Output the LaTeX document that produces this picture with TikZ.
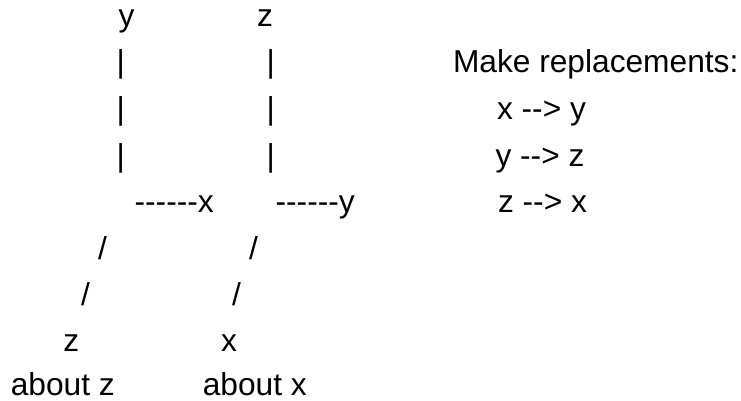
\documentclass[tikz,border=0pt]{standalone}
\usepackage{fontspec}
\setmainfont{Liberation Sans}[Ligatures=TeXOff]
\begin{document}
\begin{tikzpicture}[x=1pt,y=-1pt,
  txt/.style={inner sep=0pt,outer sep=0pt,anchor=base west,font=\fontsize{31.7}{38}\selectfont}]
\useasboundingbox (0,0) rectangle (741,401);
% left tree
\node[txt] (y1) at (118.5,27) {y};
\node[txt] (z1) at (257,27) {z};
\node[txt] (b1a) at (116.5,73) {|};
\node[txt] (b1b) at (266.6,73) {|};
\node[txt] (b2a) at (116.5,120) {|};
\node[txt] (b2b) at (266.6,120) {|};
\node[txt] (b3a) at (116.5,166) {|};
\node[txt] (b3b) at (266.6,166) {|};
\node[txt] (dx) at (134.6,212.5) {------x};
\node[txt] (dy) at (275.6,212.5) {------y};
\node[txt] (s1a) at (98,259) {/};
\node[txt] (s1b) at (249,259) {/};
\node[txt] (s2a) at (81,305) {/};
\node[txt] (s2b) at (232,305) {/};
\node[txt] (z8) at (63.4,351) {z};
\node[txt] (x8) at (221,351) {x};
\node[txt] (az) at (10.8,395.5) {about z};
\node[txt] (ax) at (202.8,395.5) {about x};
% replacements
\node[txt] (mk) at (453,73) {Make replacements:};
\node[txt] (r1) at (497,120) {x --> y};
\node[txt] (r2) at (495.5,166) {y --> z};
\node[txt] (r3) at (498,212.5) {z --> x};
\end{tikzpicture}
\end{document}
